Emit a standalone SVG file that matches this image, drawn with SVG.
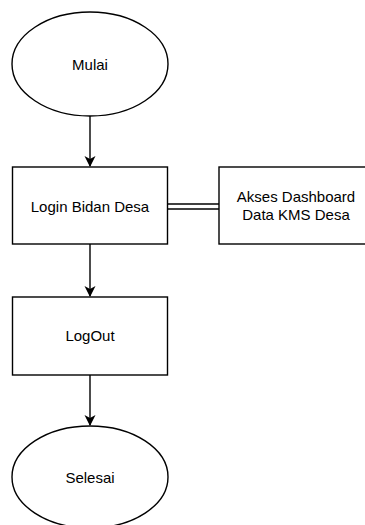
<svg xmlns="http://www.w3.org/2000/svg" width="365" height="525" viewBox="0 0 365 525">
  <style>
    .shape { fill: #ffffff; stroke: #000000; stroke-width: 1.4; }
    .label { font-family: "Liberation Sans", Arial, sans-serif; font-size: 15px; fill: #000000; text-anchor: middle; }
    .edge { stroke: #000000; stroke-width: 1.4; fill: none; }
  </style>
  <defs>
    <marker id="arrow" markerWidth="12" markerHeight="12" refX="10" refY="5.5" orient="auto" markerUnits="userSpaceOnUse">
      <path d="M0,0 L11,5.5 L0,11 L3,5.5 Z" fill="#000000"/>
    </marker>
  </defs>
  <rect width="365" height="525" fill="#ffffff"/>

  <g id="connectors">
    <line class="edge" x1="90" y1="116" x2="90" y2="166" marker-end="url(#arrow)"/>
    <line class="edge" x1="90" y1="244" x2="90" y2="296" marker-end="url(#arrow)"/>
    <line class="edge" x1="90" y1="375" x2="90" y2="425" marker-end="url(#arrow)"/>
    <line class="edge" x1="168" y1="204" x2="219" y2="204"/>
    <line class="edge" x1="168" y1="209" x2="219" y2="209"/>
  </g>

  <g id="mulai">
    <ellipse class="shape" cx="90" cy="64" rx="78" ry="52"/>
    <text class="label" x="90" y="70">Mulai</text>
  </g>

  <g id="login">
    <rect class="shape" x="12.5" y="167" width="155" height="77"/>
    <text class="label" x="90" y="212">Login Bidan Desa</text>
  </g>

  <g id="akses">
    <rect class="shape" x="219" y="167" width="155" height="77"/>
    <text class="label" x="296" y="202">Akses Dashboard</text>
    <text class="label" x="296" y="220">Data KMS Desa</text>
  </g>

  <g id="logout">
    <rect class="shape" x="12.5" y="297" width="155" height="78"/>
    <text class="label" x="90" y="341">LogOut</text>
  </g>

  <g id="selesai">
    <ellipse class="shape" cx="90" cy="477" rx="78" ry="51"/>
    <text class="label" x="90" y="483">Selesai</text>
  </g>
</svg>
